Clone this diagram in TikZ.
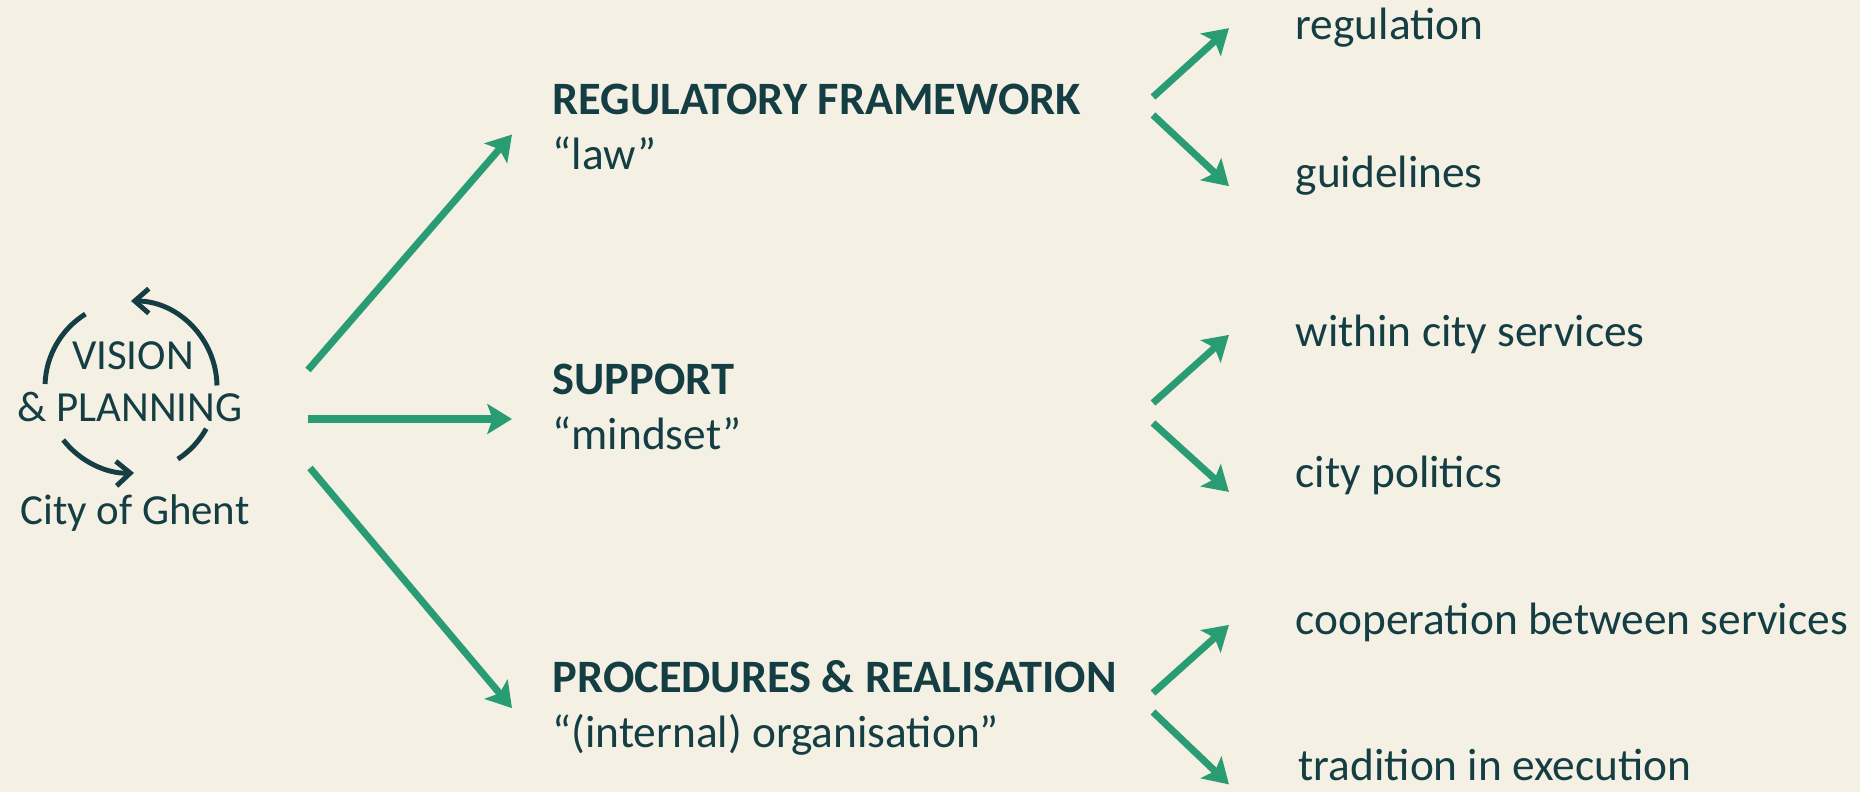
\documentclass[tikz,border=0pt]{standalone}
\usepackage{fontspec}
\setmainfont{Carlito}
\usetikzlibrary{arrows.meta}
\definecolor{bgcream}{RGB}{244,240,228}
\definecolor{inkteal}{RGB}{20,62,67}
\definecolor{arrgreen}{RGB}{42,156,116}

\begin{document}
\begin{tikzpicture}[x=0.01cm,y=-0.01cm,>={Stealth[length=7pt,width=8.5pt,inset=1.5pt]}]
	\tikzstyle{every node} = [inner sep=0pt,text=inkteal,font=\fontsize{12.9}{15.6}\selectfont];
	\tikzstyle{small} = [font=\fontsize{12.2}{14.6}\selectfont];
	\tikzstyle{head} = [font=\fontsize{13.2}{15.6}\selectfont\bfseries];
	\tikzstyle{branch} = [->,arrgreen,line width=2pt];
	\tikzstyle{turn} = [inkteal,line width=1.4pt];
	\fill[bgcream] (0,0) rectangle (1860,792);
	\useasboundingbox (0,0) rectangle (1860,792);
	% vision cycle
	\node[small,anchor=base] (vision) at (133,370) {VISION};
	\node[small,anchor=base] (planning) at (130,422) {\& PLANNING};
	\node[small,anchor=base] (ghent) at (135,525) {City of Ghent};
	\coordinate (hub) at (131,387);
	\draw[turn] ([shift={(-122:86)}]hub) arc[start angle=-122,end angle=-178,radius=86];
	\draw[turn,-{Straight Barb[length=4pt,width=7pt]}] ([shift={(-1:86)}]hub) arc[start angle=-1,end angle=-90,radius=86];
	\draw[turn,-{Straight Barb[length=4pt,width=7pt]}] ([shift={(-218:86)}]hub) arc[start angle=-218,end angle=-272,radius=86];
	\draw[turn] ([shift={(-303:86)}]hub) arc[start angle=-303,end angle=-331,radius=86];
	% three fields
	\node[head,anchor=base west] (regtitle) at (552,115) {REGULATORY FRAMEWORK};
	\node[anchor=base west] (law) at (552,170) {“law”};
	\node[head,anchor=base west] (suptitle) at (552,395) {SUPPORT};
	\node[anchor=base west] (mindset) at (552,450) {“mindset”};
	\node[head,anchor=base west] (proctitle) at (552,693) {PROCEDURES \& REALISATION};
	\node[anchor=base west] (organisation) at (552,748) {“(internal) organisation”};
	\coordinate (out1) at (308,370);
	\coordinate (out2) at (308,419);
	\coordinate (out3) at (310,468);
	\draw[branch] (out1) -- ([xshift=-0.4cm,yshift=0.02cm]law.north west);
	\draw[branch] (out2) -- ([xshift=-0.4cm]mindset.north west |- out2);
	\draw[branch] (out3) -- ([xshift=-0.4cm,yshift=0.06cm]organisation.north west);
	% details
	\node[anchor=base west] (regulation) at (1295,40) {regulation};
	\node[anchor=base west] (guidelines) at (1295,188) {guidelines};
	\node[anchor=base west] (within) at (1295,347) {within city services};
	\node[anchor=base west] (politics) at (1295,488) {city politics};
	\node[anchor=base west] (cooperation) at (1295,635) {cooperation between services};
	\node[anchor=base west] (tradition) at (1298,781) {tradition in execution};
	\coordinate (fork1a) at (1153,97);
	\coordinate (fork1b) at (1153,115);
	\coordinate (fork2a) at (1153,403);
	\coordinate (fork2b) at (1153,423);
	\coordinate (fork3a) at (1153,693);
	\coordinate (fork3b) at (1153,712);
	\draw[branch] (fork1a) -- ([xshift=-0.66cm]regulation.west);
	\draw[branch] (fork1b) -- ([xshift=-0.66cm,yshift=-0.1cm]guidelines.west);
	\draw[branch] (fork2a) -- ([xshift=-0.66cm]within.west);
	\draw[branch] (fork2b) -- ([xshift=-0.66cm,yshift=-0.16cm]politics.west);
	\draw[branch] (fork3a) -- ([xshift=-0.66cm,yshift=-0.02cm]cooperation.west);
	\draw[branch] (fork3b) -- ([xshift=-0.69cm,yshift=-0.19cm]tradition.west);
\end{tikzpicture}
\end{document}
